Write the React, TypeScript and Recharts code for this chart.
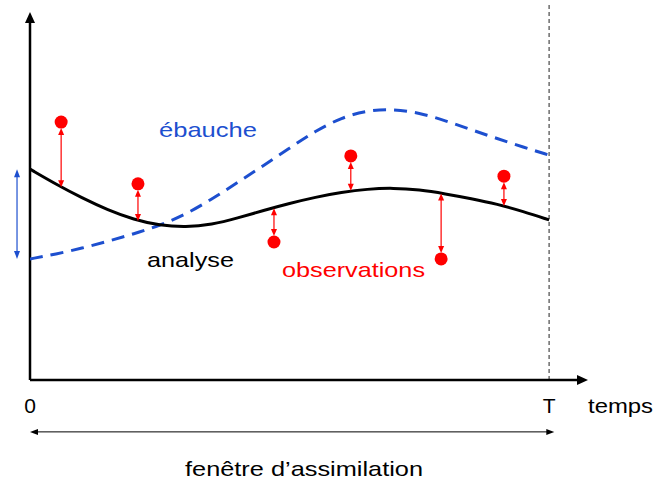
import React from "react";
import { ComposedChart, Line, Scatter, XAxis, YAxis, ReferenceLine, Customized } from "recharts";

// time samples across the assimilation window (T = 10)
const timeSteps = [0, 0.5, 1, 1.5, 2, 2.5, 3, 3.5, 4, 4.5, 5, 5.5, 6, 6.5, 7, 7.5, 8, 8.5, 9, 9.5, 10];
const analyseValues = [5.73, 5.32, 4.95, 4.62, 4.36, 4.2, 4.15, 4.22, 4.4, 4.61, 4.8, 4.97, 5.1, 5.19, 5.22, 5.17, 5.06, 4.93, 4.78, 4.58, 4.35];
const ebaucheValues = [3.29, 3.42, 3.58, 3.77, 3.97, 4.2, 4.5, 4.91, 5.37, 5.83, 6.3, 6.77, 7.13, 7.33, 7.36, 7.26, 7.05, 6.8, 6.56, 6.33, 6.11];

const obsTimes = [0.6, 2.08, 4.7, 6.18, 7.92, 9.13];
const obsValues = [7.01, 5.33, 3.75, 6.09, 3.29, 5.54];
const analyseAtObs = [5.24, 4.32, 4.67, 5.14, 5.07, 4.73];

const timeTicks = [0, 10];
const tickNames = ["0", "T"];

const BLUE = "#1d4fcf";
const RED = "#ff0000";
const FONT = "'Liberation Sans', Arial, sans-serif";

const analyseData = timeSteps.map((t, i) => ({ t, v: analyseValues[i] }));
const ebaucheData = timeSteps.map((t, i) => ({ t, v: ebaucheValues[i] }));
const obsData = obsTimes.map((t, i) => ({ t, v: obsValues[i] }));

// line with arrow head(s), used as a ReferenceLine shape
function arrow(color: string, width: number, head: number, half: number, both: boolean, gap = 0) {
  return (props: any) => {
    const { x1, y1, x2, y2 } = props;
    const len = Math.hypot(x2 - x1, y2 - y1) || 1;
    const ux = (x2 - x1) / len;
    const uy = (y2 - y1) / len;
    const sx = x1 + ux * gap;
    const sy = y1 + uy * gap;
    const tri = (tx: number, ty: number, dx: number, dy: number) => {
      const bx = tx - dx * head;
      const by = ty - dy * head;
      return `${tx},${ty} ${bx - dy * half},${by + dx * half} ${bx + dy * half},${by - dx * half}`;
    };
    const ax = both ? sx + ux * head * 0.8 : sx;
    const ay = both ? sy + uy * head * 0.8 : sy;
    return (
      <g>
        <line x1={ax} y1={ay} x2={x2 - ux * head * 0.8} y2={y2 - uy * head * 0.8} stroke={color} strokeWidth={width} />
        <polygon points={tri(x2, y2, ux, uy)} fill={color} />
        {both && <polygon points={tri(sx, sy, -ux, -uy)} fill={color} />}
      </g>
    );
  };
}

const Labels = () => (
  <g fontFamily={FONT} fontSize={21}>
    <text x={159} y={137} fill={BLUE} textLength={98} lengthAdjust="spacingAndGlyphs">ébauche</text>
    <text x={147} y={267} fill="#000" textLength={87} lengthAdjust="spacingAndGlyphs">analyse</text>
    <text x={282} y={277} fill={RED} textLength={143} lengthAdjust="spacingAndGlyphs">observations</text>
    <text x={588} y={413} fill="#000" textLength={65} lengthAdjust="spacingAndGlyphs">temps</text>
    <text x={185} y={476} fill="#000" textLength={238} lengthAdjust="spacingAndGlyphs">fenêtre d’assimilation</text>
  </g>
);

export default function App() {
  return (
    <div style={{ position: "absolute", left: 0, top: 0, background: "#fff" }}>
      <ComposedChart width={655} height={482} margin={{ top: 12, right: 54, left: 30, bottom: 62 }}>
        <XAxis
          type="number"
          dataKey="t"
          domain={[0, 11]}
          ticks={timeTicks}
          tickFormatter={(v: number) => tickNames[timeTicks.indexOf(v)]}
          axisLine={false}
          tickLine={false}
          tickMargin={12}
          height={40}
          tick={{ fontFamily: FONT, fontSize: 21, fill: "#000" }}
          allowDataOverflow
        />
        <YAxis type="number" dataKey="v" domain={[0, 10]} hide allowDataOverflow />

        {/* end of window */}
        <ReferenceLine
          segment={[{ x: 10, y: 0 }, { x: 10, y: 10.2 }]}
          stroke="#222"
          strokeWidth={1}
          strokeDasharray="4 3"
          ifOverflow="visible"
        />
        {/* axes */}
        <ReferenceLine segment={[{ x: 0, y: 0 }, { x: 0, y: 10 }]} ifOverflow="visible" shape={arrow("#000", 2.5, 11, 5, false)} />
        <ReferenceLine segment={[{ x: 0, y: 0 }, { x: 10.75, y: 0 }]} ifOverflow="visible" shape={arrow("#000", 2.5, 11, 5, false)} />
        {/* assimilation window */}
        <ReferenceLine segment={[{ x: 0, y: -1.41 }, { x: 10.1, y: -1.41 }]} ifOverflow="visible" shape={arrow("#000", 1, 8, 3, true)} />
        {/* background error at t=0 */}
        <ReferenceLine
          segment={[{ x: -0.25, y: ebaucheValues[0] }, { x: -0.25, y: analyseValues[0] }]}
          ifOverflow="visible"
          shape={arrow(BLUE, 1.2, 8, 3, true)}
        />

        <Line data={ebaucheData} dataKey="v" type="basis" stroke={BLUE} strokeWidth={3} strokeDasharray="13 8" dot={false} isAnimationActive={false} />
        <Line data={analyseData} dataKey="v" type="basis" stroke="#000" strokeWidth={3} dot={false} isAnimationActive={false} />

        {obsTimes.map((t, i) => (
          <ReferenceLine
            key={i}
            segment={[{ x: t, y: obsValues[i] }, { x: t, y: analyseAtObs[i] }]}
            ifOverflow="visible"
            shape={arrow(RED, 1.2, 7, 3, true, 6)}
          />
        ))}
        <Scatter
          data={obsData}
          dataKey="v"
          fill={RED}
          isAnimationActive={false}
          shape={(p: any) => <circle cx={p.cx} cy={p.cy} r={6.5} fill={RED} />}
        />
        <Customized component={Labels} />
      </ComposedChart>
    </div>
  );
}
